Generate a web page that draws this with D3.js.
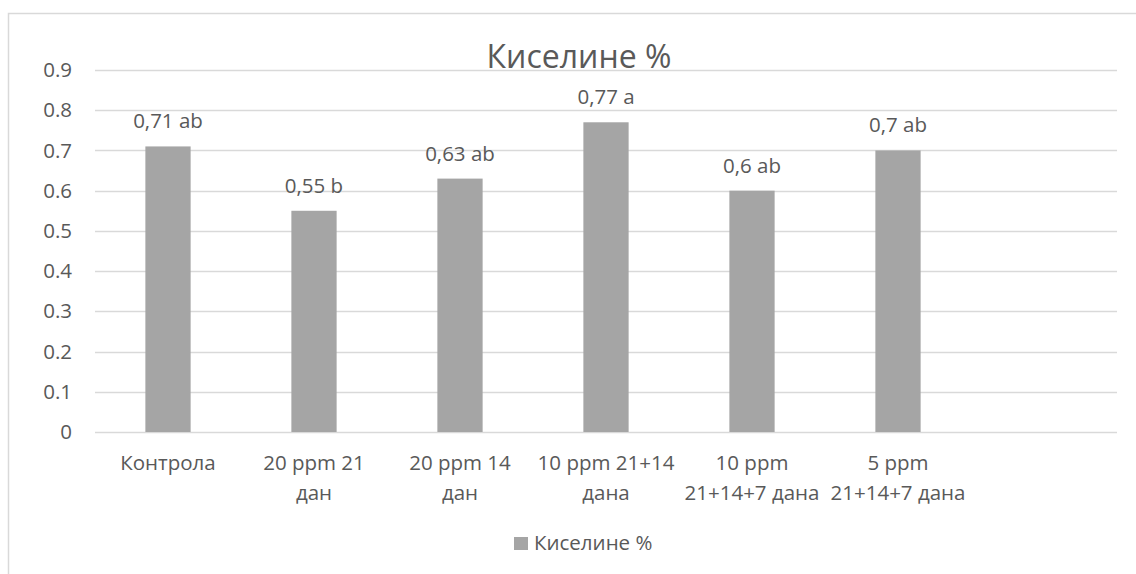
<!DOCTYPE html>
<html>
<head>
<meta charset="utf-8">
<script src="https://cdn.jsdelivr.net/npm/d3@7"></script>
<style>
  html, body { margin: 0; padding: 0; background: #fff; }
  svg { display: block; }
  text { font-family: "Open Sans", "Noto Sans", sans-serif; fill: #595959; }
</style>
</head>
<body>
<svg id="chart" width="1136" height="574"></svg>
<script>
// Treatments (the last slot is an empty category on the axis)
const categories = ["Контрола", "20 ppm 21 дан", "20 ppm 14 дан", "10 ppm 21+14 дана",
                    "10 ppm 21+14+7 дана", "5 ppm 21+14+7 дана", ""];
const categoryLines = [["Контрола"], ["20 ppm 21", "дан"], ["20 ppm 14", "дан"],
                       ["10 ppm 21+14", "дана"], ["10 ppm", "21+14+7 дана"],
                       ["5 ppm", "21+14+7 дана"], []];
const acidValues = [0.71, 0.55, 0.63, 0.77, 0.6, 0.7];
const significance = ["ab", "b", "ab", "a", "ab", "ab"];
const yTicks = [0, 0.1, 0.2, 0.3, 0.4, 0.5, 0.6, 0.7, 0.8, 0.9];
const seriesName = "Киселине %";

const FS = 20.5; // body text size
const svg = d3.select("#chart");
const plot = { left: 95, right: 1117, top: 70, bottom: 432 };

const x = d3.scaleBand().domain(categories).range([plot.left, plot.right])
  .paddingInner(0.69).paddingOuter(0.345);
const y = d3.scaleLinear().domain([0, 0.9]).range([plot.bottom, plot.top]);

// chart frame (left and top edges)
svg.append("path").attr("d", "M8.5,574 V13.5 H1136")
  .attr("fill", "none").attr("stroke", "#d9d9d9").attr("stroke-width", 1.5);

// horizontal gridlines
svg.append("g").selectAll("line").data(yTicks).join("line")
  .attr("x1", plot.left).attr("x2", plot.right)
  .attr("y1", d => Math.round(y(d)) + 0.5).attr("y2", d => Math.round(y(d)) + 0.5)
  .attr("stroke", "#d9d9d9").attr("stroke-width", 1.3);

// y axis labels
const yAxis = d3.axisLeft(y).tickValues(yTicks).tickSize(0).tickPadding(23)
  .tickFormat(d => d === 0 ? "0" : d3.format(".1f")(d));
svg.append("g").attr("transform", `translate(${plot.left},0)`).call(yAxis)
  .call(g => g.select(".domain").remove())
  .call(g => g.selectAll("text").attr("font-size", FS).attr("fill", "#595959")
    .attr("font-family", "'Open Sans', sans-serif"));

// bars
const data = acidValues.map((v, i) => ({ cat: categories[i], v, sig: significance[i] }));
svg.append("g").selectAll("rect").data(data).join("rect")
  .attr("x", d => x(d.cat)).attr("width", x.bandwidth())
  .attr("y", d => y(d.v)).attr("height", d => y(0) - y(d.v))
  .attr("fill", "#a5a5a5");

// data labels
svg.append("g").selectAll("text").data(data).join("text")
  .attr("x", d => x(d.cat) + x.bandwidth() / 2)
  .attr("y", d => y(d.v) - 18)
  .attr("text-anchor", "middle").attr("font-size", FS)
  .text(d => `${String(d.v).replace(".", ",")} ${d.sig}`);

// category labels
const catG = svg.append("g").selectAll("text").data(categories).join("text")
  .attr("x", d => x(d) + x.bandwidth() / 2)
  .attr("y", 470).attr("text-anchor", "middle").attr("font-size", FS);
catG.each(function(d, i) {
  d3.select(this).selectAll("tspan").data(categoryLines[i]).join("tspan")
    .attr("x", x(d) + x.bandwidth() / 2)
    .attr("dy", (l, j) => j === 0 ? 0 : 30)
    .text(l => l);
});

// title
svg.append("text").attr("x", 579).attr("y", 68).attr("text-anchor", "middle")
  .attr("font-size", 32).text(seriesName);

// legend
const leg = svg.append("g");
leg.append("rect").attr("x", 514).attr("y", 537).attr("width", 14).attr("height", 13)
  .attr("fill", "#a5a5a5");
leg.append("text").attr("x", 534).attr("y", 550).attr("font-size", FS).text(seriesName);
</script>
</body>
</html>
